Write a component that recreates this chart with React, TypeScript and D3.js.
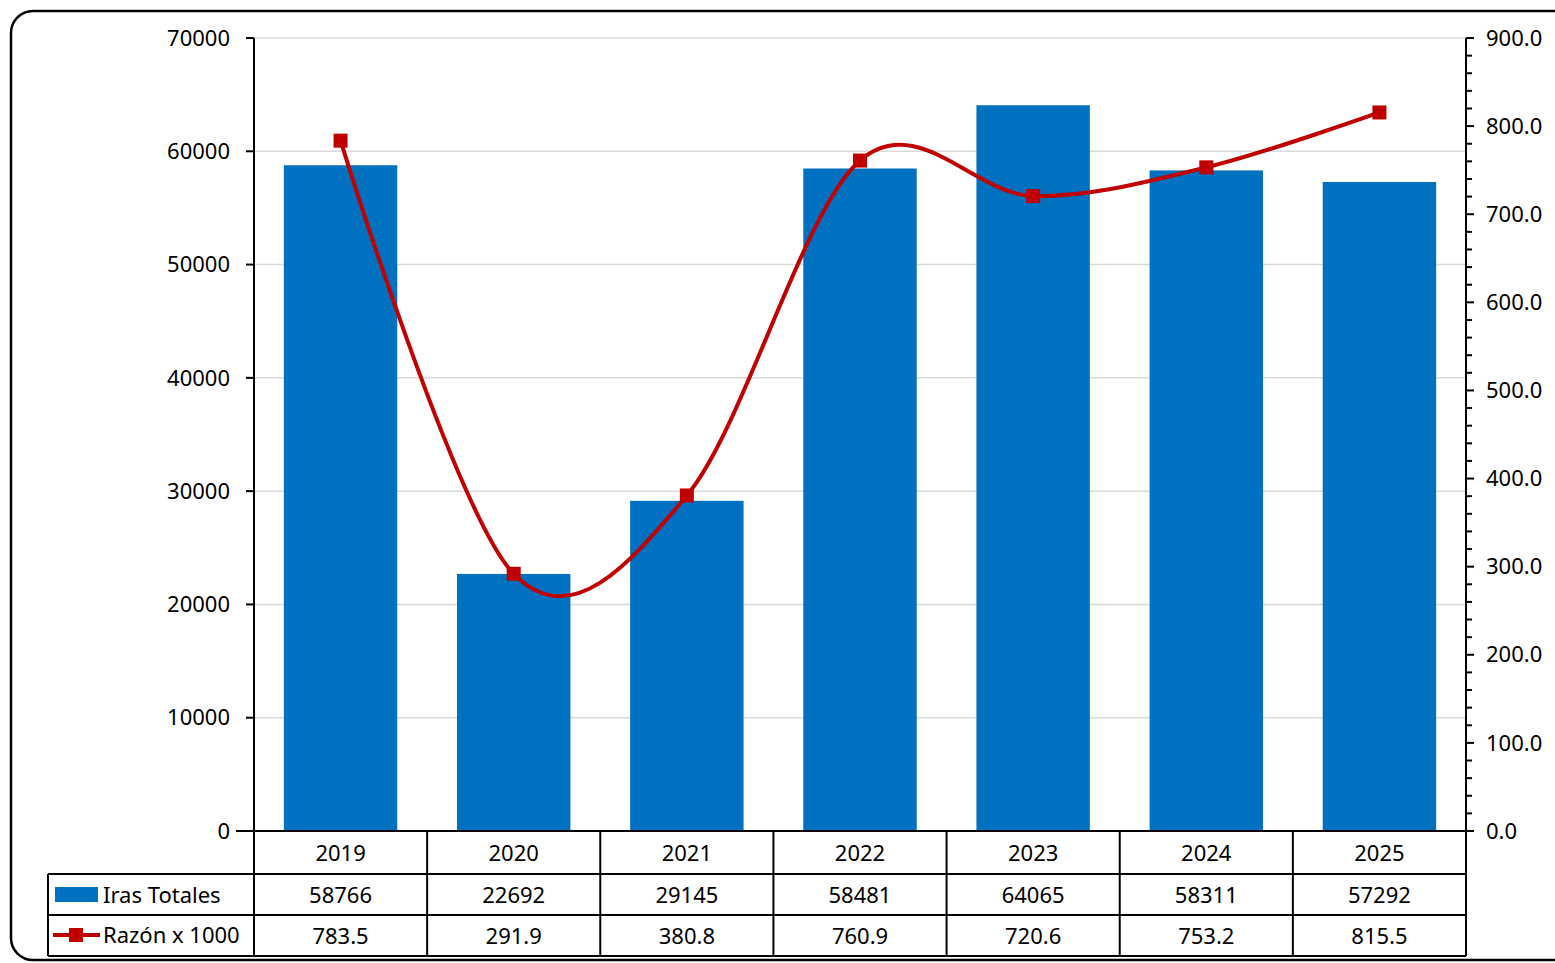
import React, { useEffect, useRef } from 'react';
import * as d3 from 'd3';

const years = ['2019', '2020', '2021', '2022', '2023', '2024', '2025'];
const iras = [58766, 22692, 29145, 58481, 64065, 58311, 57292];
const razon = [783.5, 291.9, 380.8, 760.9, 720.6, 753.2, 815.5];
const leftTicks = [0, 10000, 20000, 30000, 40000, 50000, 60000, 70000];
const rightTicks = [0, 100, 200, 300, 400, 500, 600, 700, 800, 900];

const W = 1555, H = 963;
const L = 254, R = 1466, T = 38, B = 831;
const FONT = '"Noto Sans", sans-serif';
const FS = 22;

const App: React.FC = () => {
  const ref = useRef<SVGSVGElement>(null);

  useEffect(() => {
    if (!ref.current) return;
    const svg = d3.select(ref.current);
    svg.selectAll('*').remove();

    svg.append('rect').attr('x', 11).attr('y', 11).attr('width', W + 20).attr('height', H - 14)
      .attr('rx', 22).attr('fill', '#fff').attr('stroke', '#000').attr('stroke-width', 2.5);

    const x = d3.scaleBand().domain(years).range([L, R]).paddingInner(0.345).paddingOuter(0.1725);
    const yL = d3.scaleLinear().domain([0, 70000]).range([B, T]);
    const yR = d3.scaleLinear().domain([0, 900]).range([B, T]);
    const step = x.step();

    // gridlines
    svg.append('g').selectAll('line').data(leftTicks.slice(1)).join('line')
      .attr('x1', L).attr('x2', R).attr('y1', d => yL(d)).attr('y2', d => yL(d))
      .attr('stroke', '#d9d9d9').attr('stroke-width', 1.5);

    // bars
    svg.append('g').selectAll('rect').data(iras).join('rect')
      .attr('x', (_, i) => x(years[i])!).attr('width', x.bandwidth())
      .attr('y', d => yL(d)).attr('height', d => B - yL(d)).attr('fill', '#0070c0');

    // left axis
    const la = svg.append('g').attr('font-family', FONT).attr('font-size', FS);
    la.append('line').attr('x1', L).attr('x2', L).attr('y1', T).attr('y2', B).attr('stroke', '#000').attr('stroke-width', 2);
    la.selectAll('line.t').data(leftTicks).join('line').attr('class', 't')
      .attr('x1', L - 8).attr('x2', L).attr('y1', d => yL(d)).attr('y2', d => yL(d)).attr('stroke', '#000').attr('stroke-width', 2);
    la.selectAll('text').data(leftTicks).join('text')
      .attr('x', L - 24).attr('y', d => yL(d)).attr('dy', '0.35em').attr('text-anchor', 'end').text(d => d);

    // right axis
    const ra = svg.append('g').attr('font-family', FONT).attr('font-size', FS);
    ra.append('line').attr('x1', R).attr('x2', R).attr('y1', T).attr('y2', B).attr('stroke', '#000').attr('stroke-width', 2);
    ra.selectAll('line.m').data(d3.range(0, 901, 20)).join('line').attr('class', 'm')
      .attr('x1', R).attr('x2', d => R + (d % 100 === 0 ? 8 : 6)).attr('y1', d => yR(d)).attr('y2', d => yR(d))
      .attr('stroke', '#000').attr('stroke-width', 2);
    ra.selectAll('text').data(rightTicks).join('text')
      .attr('x', R + 20).attr('y', d => yR(d)).attr('dy', '0.35em').text(d => d.toFixed(1));

    // line
    const pts: [number, number][] = razon.map((v, i) => [x(years[i])! + x.bandwidth() / 2, yR(v)]);
    svg.append('path').attr('d', d3.line().curve(d3.curveCardinal.tension(0))(pts)!)
      .attr('fill', 'none').attr('stroke', '#c00000').attr('stroke-width', 4);
    svg.append('g').selectAll('rect').data(pts).join('rect')
      .attr('x', d => d[0] - 7).attr('y', d => d[1] - 7).attr('width', 14).attr('height', 14).attr('fill', '#c00000');

    // table
    const rows = [B, 874, 915, 956];
    const tb = svg.append('g').attr('stroke', '#000').attr('stroke-width', 2);
    tb.append('line').attr('x1', L - 18).attr('x2', R).attr('y1', B).attr('y2', B);
    [874, 915, 956].forEach(y => tb.append('line').attr('x1', 48).attr('x2', R).attr('y1', y).attr('y2', y));
    tb.append('line').attr('x1', 48).attr('x2', 48).attr('y1', 874).attr('y2', 956);
    years.forEach((_, i) => tb.append('line').attr('x1', L + i * step).attr('x2', L + i * step).attr('y1', B).attr('y2', 956));
    tb.append('line').attr('x1', R).attr('x2', R).attr('y1', B).attr('y2', 956);

    const tt = svg.append('g').attr('font-family', FONT).attr('font-size', FS).attr('text-anchor', 'middle');
    const cols = [years, iras.map(String), razon.map(v => v.toFixed(1))];
    cols.forEach((vals, r) => {
      tt.selectAll(`text.r${r}`).data(vals).join('text').attr('class', `r${r}`)
        .attr('x', (_, i) => x(years[i])! + x.bandwidth() / 2)
        .attr('y', (rows[r] + rows[r + 1]) / 2 + 1).attr('dy', '0.35em').text(d => d);
    });

    // legend keys
    svg.append('rect').attr('x', 55).attr('y', 887).attr('width', 43).attr('height', 15).attr('fill', '#0070c0');
    svg.append('line').attr('x1', 53).attr('x2', 100).attr('y1', 935).attr('y2', 935).attr('stroke', '#c00000').attr('stroke-width', 4);
    svg.append('rect').attr('x', 69).attr('y', 928).attr('width', 14).attr('height', 14).attr('fill', '#c00000');
    const lg = svg.append('g').attr('font-family', FONT).attr('font-size', FS);
    lg.append('text').attr('x', 103).attr('y', 895).attr('dy', '0.35em').text('Iras Totales');
    lg.append('text').attr('x', 103).attr('y', 935).attr('dy', '0.35em').text('Razón x 1000');
  }, []);

  return <svg ref={ref} width={W} height={H} style={{ position: 'absolute', left: 0, top: 0 }} />;
};

export default App;
